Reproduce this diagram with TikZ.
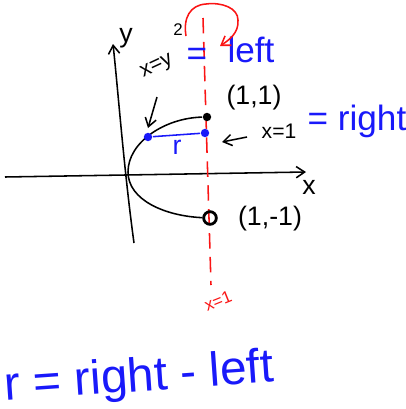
\documentclass[tikz,border=0pt]{standalone}
\usepackage{fontspec}
\setmainfont{Liberation Sans}
\usetikzlibrary{arrows.meta}
\definecolor{ink}{RGB}{0,0,0}
\definecolor{bluepen}{RGB}{25,25,250}
\definecolor{redpen}{RGB}{250,20,20}

\begin{document}
\begin{tikzpicture}[x=0.025cm,y=-0.025cm,line width=1.1pt,
  tip/.style={-{Straight Barb[length=6pt,width=8pt]}}]
\useasboundingbox (0,0) rectangle (406,409);

% ---- layout parameters ----
\def\fbig{\fontsize{34}{36}\selectfont}    % bottom rule
\def\fblue{\fontsize{25}{27}\selectfont}   % blue words
\def\fmid{\fontsize{19}{21}\selectfont}    % black labels
\def\fsm{\fontsize{15}{17}\selectfont}     % small black labels
\def\fsmall{\fontsize{12}{14}\selectfont}  % red label

% Dot macro (name, x, y, color)
\newcommand{\sdot}[4]{%
  \node[circle,fill=#4,inner sep=0pt,minimum size=6pt] (#1) at (#2,#3) {};}

% Axes
\coordinate (xl) at (5,177);
\coordinate (xr) at (306,172);
\coordinate (yb) at (134,243);
\coordinate (yt) at (113,44);
\draw[tip] (xl) -- (xr);
\draw[tip] (yb) .. controls (124,170) and (118,90) .. (yt);
\node[font=\fmid] (xlab) at (309,187) {x};
\node[font=\fmid] (ylab) at (126,38) {y};

% Line x=1 (dashed, red)
\coordinate (lt) at (203,18);
\coordinate (lb) at (211,285);
\draw[redpen,dash pattern=on 11pt off 6pt] (lt) -- (lb);
\node[redpen,font=\fsmall,rotate=22] (xone) at (218,301) {x=1};

% Parabola x=y^2
\coordinate (vtx) at (128,172);
\sdot{p11}{207}{117}{ink}
\node[circle,draw=ink,line width=2pt,inner sep=0pt,minimum size=9pt] (p1m1) at (210,218) {};
\draw (p1m1) .. controls (165,216) and (128,200) .. (vtx)
      .. controls (128,142) and (165,118) .. (p11);

% Radius r (blue)
\sdot{lp}{148}{137}{bluepen}
\sdot{rp}{205}{133}{bluepen}
\draw[bluepen] (lp) -- (rp);
\node[bluepen,font=\fmid] (rlab) at (177,147) {r};

% Labels
\node[font=\fmid] (p11lab) at (254,98) {(1,1)};
\node[font=\fmid] (p1m1lab) at (270,219) {(1,-1)};
\node[font=\fsm,rotate=25] (parab) at (157,67) {x=y};
\node[font=\fsmall] (sq) at (178,30) {2};
\node[bluepen,font=\fblue] (eqa) at (197,57) {=};
\node[bluepen,font=\fblue] (left) at (251,50) {left};
\node[font=\fsm] (xeq) at (279,131) {x=1};
\node[bluepen,font=\fblue] (right) at (357,121) {= right};
\node[bluepen,font=\fbig,rotate=4] (rule) at (139,379) {r = right - left};

% Pointer arrows
\coordinate (pa) at (157,97);
\coordinate (pb) at (148,128);
\draw[tip] (pa) -- (pb);
\coordinate (qa) at (247,137);
\coordinate (qb) at (222,142);
\draw[tip] (qa) -- (qb);

% Loop arrow (red)
\coordinate (la) at (186,36);
\coordinate (lt2) at (206,4);
\coordinate (lm) at (238,20);
\coordinate (lz) at (220,46);
\draw[redpen] (la) .. controls (183,18) and (190,5) .. (lt2)
      .. controls (222,2) and (238,8) .. (lm);
\draw[redpen,tip] (lm) .. controls (239,33) and (229,40) .. (lz);

\end{tikzpicture}
\end{document}
